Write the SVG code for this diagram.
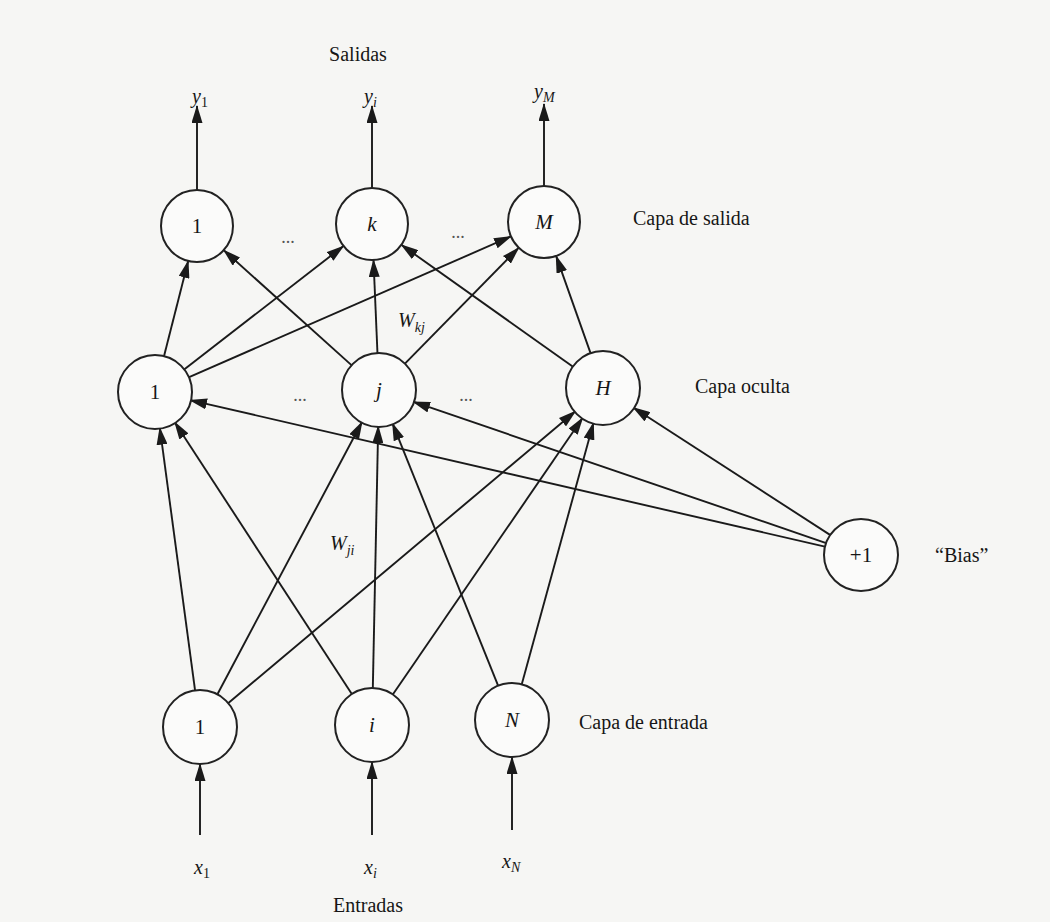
<svg xmlns="http://www.w3.org/2000/svg" width="1050" height="922" viewBox="0 0 1050 922">
<defs>
<style>
.bg{fill:#f6f6f4}
.node circle,.node ellipse{fill:#fbfbfa;stroke:#222;stroke-width:2}
.edge{stroke:#1a1a1a;stroke-width:1.9;fill:none;marker-end:url(#arr)}
text{font-family:"Liberation Serif","Times New Roman",serif;fill:#161616}
.nl{font-size:21px;text-anchor:middle}
.it{font-style:italic}
.up{font-style:normal}
.lab{font-size:20px}
.dots{font-size:18px;text-anchor:middle;fill:#555}
.sub{font-size:14px}
</style>
<marker id="arr" markerWidth="18" markerHeight="11" refX="17" refY="5.5" orient="auto" markerUnits="userSpaceOnUse">
<path d="M0,0 L18,5.5 L0,11 z" fill="#1a1a1a"/>
</marker>
</defs>
<rect class="bg" x="0" y="0" width="1050" height="922"/>

<g id="connectors">
<!-- outputs -->
<line class="edge" x1="197" y1="190" x2="197" y2="106"/>
<line class="edge" x1="372" y1="188" x2="372" y2="106"/>
<line class="edge" x1="544" y1="186" x2="544" y2="104"/>
<!-- hidden to output -->
<line class="edge" x1="163.8" y1="357.1" x2="188.2" y2="260.9"/>
<line class="edge" x1="183.5" y1="370.0" x2="343.5" y2="246.0"/>
<line class="edge" x1="188.0" y1="377.6" x2="511.0" y2="236.4"/>
<line class="edge" x1="352.3" y1="365.9" x2="223.7" y2="250.1"/>
<line class="edge" x1="377.5" y1="354.0" x2="373.5" y2="260.0"/>
<line class="edge" x1="404.2" y1="364.3" x2="518.8" y2="247.7"/>
<line class="edge" x1="573.7" y1="367.2" x2="401.3" y2="244.8"/>
<line class="edge" x1="590.9" y1="354.1" x2="556.1" y2="255.9"/>
<!-- input to hidden -->
<line class="edge" x1="195.2" y1="691.3" x2="159.8" y2="427.7"/>
<line class="edge" x1="216.9" y1="695.2" x2="362.1" y2="421.8"/>
<line class="edge" x1="227.5" y1="703.8" x2="575.5" y2="411.2"/>
<line class="edge" x1="352.3" y1="694.8" x2="174.7" y2="422.2"/>
<line class="edge" x1="372.8" y1="689.0" x2="378.2" y2="426.0"/>
<line class="edge" x1="392.3" y1="695.3" x2="582.7" y2="417.7"/>
<line class="edge" x1="498.5" y1="686.6" x2="392.5" y2="423.4"/>
<line class="edge" x1="521.5" y1="685.3" x2="593.5" y2="422.7"/>
<!-- bias -->
<line class="edge" x1="826.0" y1="546.9" x2="190.0" y2="400.1"/>
<line class="edge" x1="826.9" y1="543.3" x2="413.1" y2="401.7"/>
<line class="edge" x1="830.8" y1="535.4" x2="633.2" y2="407.5"/>
<!-- inputs -->
<line class="edge" x1="200" y1="835" x2="200" y2="764"/>
<line class="edge" x1="372" y1="835" x2="372" y2="762"/>
<line class="edge" x1="512" y1="830" x2="512" y2="757"/>
</g>

<g id="out1" class="node"><circle cx="197" cy="226" r="36"/><text class="nl" x="197" y="233">1</text></g>
<g id="outk" class="node"><circle cx="372" cy="224" r="36"/><text class="nl it" x="372" y="231">k</text></g>
<g id="outM" class="node"><circle cx="544" cy="222" r="36"/><text class="nl it" x="544" y="229">M</text></g>
<g id="hid1" class="node"><circle cx="155" cy="392" r="37"/><text class="nl" x="155" y="399">1</text></g>
<g id="hidj" class="node"><circle cx="379" cy="390" r="37"/><text class="nl it" x="379" y="397">j</text></g>
<g id="hidH" class="node"><circle cx="603" cy="388" r="37"/><text class="nl it" x="603" y="395">H</text></g>
<g id="in1" class="node"><circle cx="200" cy="727" r="37"/><text class="nl" x="200" y="734">1</text></g>
<g id="ini" class="node"><circle cx="372" cy="725" r="37"/><text class="nl it" x="372" y="732">i</text></g>
<g id="inN" class="node"><circle cx="512" cy="720" r="37"/><text class="nl it" x="512" y="727">N</text></g>
<g id="bias" class="node"><ellipse cx="861" cy="555" rx="37" ry="36"/><text class="nl" x="861" y="562">+1</text></g>

<g id="labels">
<text class="lab" x="358" y="61" text-anchor="middle">Salidas</text>
<text class="lab it" x="192" y="103">y<tspan class="sub up" dy="4">1</tspan></text>
<text class="lab it" x="364" y="103">y<tspan class="sub" dy="4">i</tspan></text>
<text class="lab it" x="534" y="98">y<tspan class="sub" dy="4">M</tspan></text>
<text class="dots" x="288" y="243">...</text>
<text class="dots" x="458" y="238">...</text>
<text class="dots" x="300" y="401">...</text>
<text class="dots" x="466" y="401">...</text>
<text class="lab" x="633" y="225">Capa de salida</text>
<text class="lab" x="695" y="393">Capa oculta</text>
<text class="lab" x="579" y="729">Capa de entrada</text>
<text class="lab" x="935" y="562">“Bias”</text>
<text class="lab it" x="398" y="327">W<tspan class="sub" dy="5">kj</tspan></text>
<text class="lab it" x="330" y="550">W<tspan class="sub" dy="5">ji</tspan></text>
<text class="lab it" x="194" y="874">x<tspan class="sub up" dy="4">1</tspan></text>
<text class="lab it" x="364" y="874">x<tspan class="sub" dy="4">i</tspan></text>
<text class="lab it" x="502" y="868">x<tspan class="sub" dy="4">N</tspan></text>
<text class="lab" x="368" y="912" text-anchor="middle">Entradas</text>
</g>
</svg>
